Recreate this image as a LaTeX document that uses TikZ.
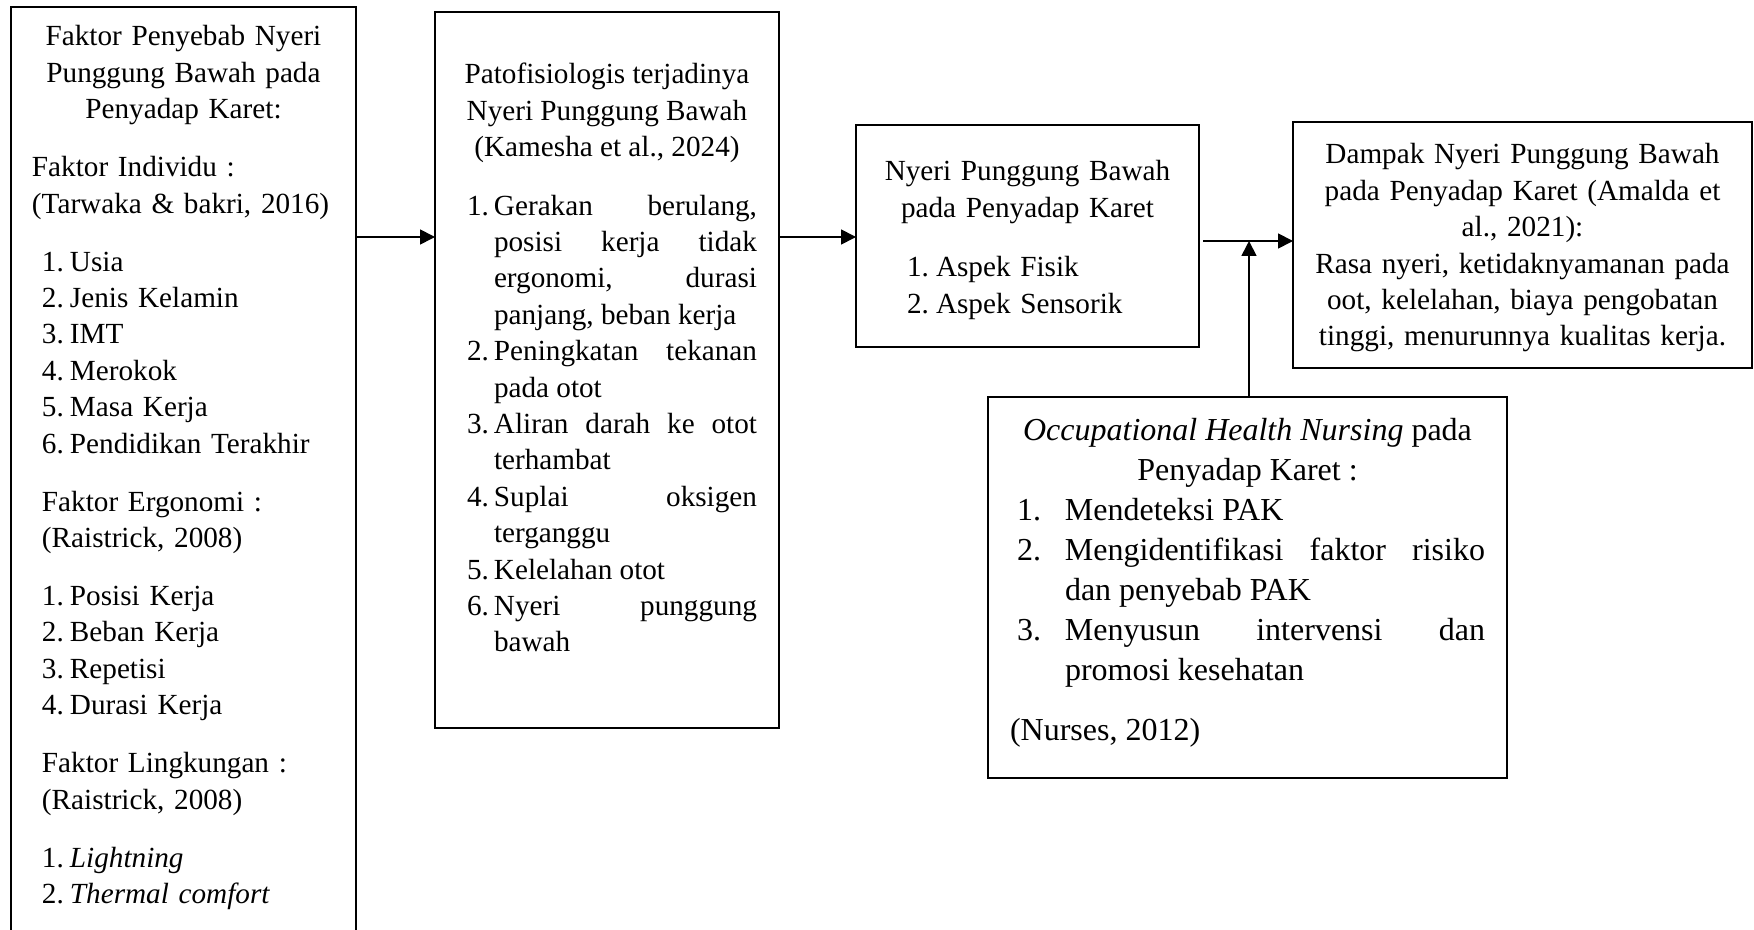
\documentclass[tikz,border=0pt]{standalone}
\usepackage{fontspec}
\setmainfont{Liberation Serif}
\usepackage{tikz}
\usetikzlibrary{arrows.meta}

\setlength{\parindent}{0pt}
\hyphenpenalty=10000
\exhyphenpenalty=10000
\tolerance=9999

\newcommand{\butir}[2][14pt]{\par\hangindent=#1\hangafter=1\makebox[#1][l]{#2}}

\begin{document}
\begin{tikzpicture}[x=0.5pt, y=-0.5pt,
        box/.style={draw, line width=1pt, rectangle, inner sep=0pt, outer sep=0pt,
            anchor=base west, font=\fontsize{14.6pt}{18.2pt}\selectfont},
        arr/.style={-{Triangle[length=7.5pt,width=7.5pt]}, line width=0.85pt}]
        \useasboundingbox (0,0) rectangle (1754,930);
        
        \node[box, minimum width=172.5pt, text width=151.5pt, text height=19.5pt, text depth=477pt] (faktor) at (11,46) {%
            {\centering Faktor Penyebab Nyeri\\ Punggung Bawah pada\\ Penyadap Karet:\par}
            \vspace{10.8pt}
            Faktor Individu :\\
            (Tarwaka \& bakri, 2016)\par
            \vspace{10.8pt}
            \leftskip=5pt
            \butir{1.}Usia
            \butir{2.}Jenis Kelamin
            \butir{3.}IMT
            \butir{4.}Merokok
            \butir{5.}Masa Kerja
            \butir{6.}Pendidikan Terakhir\par
            \vspace{10.8pt}
            Faktor Ergonomi :\\
            (Raistrick, 2008)\par
            \vspace{10.8pt}
            \butir{1.}Posisi Kerja
            \butir{2.}Beban Kerja
            \butir{3.}Repetisi
            \butir{4.}Durasi Kerja\par
            \vspace{10.8pt}
            Faktor Lingkungan :\\
            (Raistrick, 2008)\par
            \vspace{10.8pt}
            \butir{1.}\textit{Lightning}
            \butir{2.}\textit{Thermal comfort}\par
        };
        
        \node[box, align=justify, minimum width=172pt, text width=150pt, text height=36pt, text depth=322pt] (patofis) at (435,84) {%
            {\centering Patofisiologis terjadinya\\ Nyeri Punggung Bawah\\ (Kamesha et al., 2024)\par}
            \vspace{11pt}
            \leftskip=5pt
            \butir[13.5pt]{1.}Gerakan berulang, posisi kerja tidak ergonomi, durasi panjang, beban kerja
            \butir[13.5pt]{2.}Peningkatan tekanan pada otot
            \butir[13.5pt]{3.}Aliran darah ke otot terhambat
            \butir[13.5pt]{4.}Suplai oksigen terganggu
            \butir[13.5pt]{5.}Kelelahan otot
            \butir[13.5pt]{6.}Nyeri punggung bawah\par
        };
        
        \node[box, minimum width=171.5pt, text width=145pt, text height=28pt, text depth=83pt] (nyeri) at (856,181) {%
            {\centering Nyeri Punggung Bawah\\ pada Penyadap Karet\par}
            \vspace{11.5pt}
            \leftskip=12.25pt
            \butir[14.5pt]{1.}Aspek Fisik
            \butir[14.5pt]{2.}Aspek Sensorik\par
        };
        
        \node[box, minimum width=229.5pt, text width=220pt, text height=21pt, text depth=102pt, align=center] (dampak) at (1293,164) {%
            Dampak Nyeri Punggung Bawah\\ pada Penyadap Karet (Amalda et\\ al., 2021):\\
            Rasa nyeri, ketidaknyamanan pada\\ oot, kelelahan, biaya pengobatan\\ tinggi, menurunnya kualitas kerja.};
        
        \node[box, align=justify, font=\fontsize{16pt}{20pt}\selectfont, minimum width=259.5pt, text width=237.5pt, text height=21.5pt, text depth=169pt] (ohn) at (988,440) {%
            {\centering \textit{Occupational Health Nursing} pada\\ Penyadap Karet :\par}
            \leftskip=3.5pt
            \butir[24pt]{1.}Mendeteksi PAK
            \butir[24pt]{2.}Mengidentifikasi faktor risiko dan penyebab PAK
            \butir[24pt]{3.}Menyusun intervensi dan promosi kesehatan\par
            \vspace{10pt}
            \leftskip=0pt
            (Nurses, 2012)\par
        };
        
        \coordinate (lv) at (0,237);
        \coordinate (temu) at (1249,241);
        \draw[arr] (faktor.east |- lv) -- (patofis.west |- lv);
        \draw[arr] (patofis.east |- lv) -- (nyeri.west |- lv);
        \draw[arr, shorten <=2pt] (nyeri.east |- temu) -- (dampak.west |- temu);
        \draw[arr] (ohn.north -| temu) -- (temu);
        
\end{tikzpicture}
\end{document}
